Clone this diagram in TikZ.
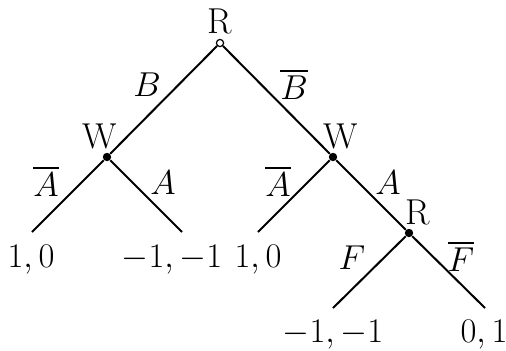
\documentclass[tikz,border=0pt]{standalone}
\usepackage{amsmath}
\usepackage{tikz}
\usetikzlibrary{positioning}

\begin{document}
\begin{tikzpicture}[
  x=0.5pt,y=-0.5pt,font=\fontsize{16}{19}\selectfont,
  root/.style={circle,draw,fill=white,inner sep=0pt,minimum size=3.6pt,line width=0.6pt},
  dec/.style={circle,fill,inner sep=0pt,minimum size=4.2pt},
  br/.style={line width=1pt},
  lbl/.style={inner sep=1pt},
  plr/.style={inner sep=1pt,font=\fontsize{18}{21}\selectfont}]
\useasboundingbox (0,0) rectangle (506,350);
% decision nodes
\node[root] (r1) at (220,43) {};
\node[dec] (w1) at (107,157) {};
\node[dec] (w2) at (333,157) {};
\node[dec] (r2) at (409,233) {};
% ends of the branches
\coordinate (l1) at (32,232);
\coordinate (l2) at (182,232);
\coordinate (l3) at (258,232);
\coordinate (l4) at (333,308);
\coordinate (l5) at (485,308);
% branches
\draw[br] (r1) -- (w1);
\draw[br] (r1) -- (w2);
\draw[br] (w1) -- (l1);
\draw[br] (w1) -- (l2);
\draw[br] (w2) -- (l3);
\draw[br] (w2) -- (r2);
\draw[br] (r2) -- (l4);
\draw[br] (r2) -- (l5);
% players
\node[plr] (pr1) at (220,21) {R};
\node[plr] (pw1) at (100,136) {W};
\node[plr] (pw2) at (341,136) {W};
\node[plr] (pr2) at (418,212) {R};
% actions
\node[lbl] (ab) at (147,85) {$B$};
\node[lbl] (abb) at (294,84) {$\overline{B}$};
\node[lbl] (aa1) at (46,181) {$\overline{A}$};
\node[lbl] (ab1) at (163,183) {$A$};
\node[lbl] (aa2) at (278,181) {$\overline{A}$};
\node[lbl] (ab2) at (388,183) {$A$};
\node[lbl] (af) at (352,258) {$F$};
\node[lbl] (afb) at (461,256) {$\overline{F}$};
% payoffs
\node[lbl] (p1) at (31,260) {$1,0$};
\node[lbl] (p2) at (172,260) {$-1,-1$};
\node[lbl] (p3) at (258,260) {$1,0$};
\node[lbl] (p4) at (333,335) {$-1,-1$};
\node[lbl] (p5) at (484,335) {$0,1$};
\end{tikzpicture}
\end{document}
